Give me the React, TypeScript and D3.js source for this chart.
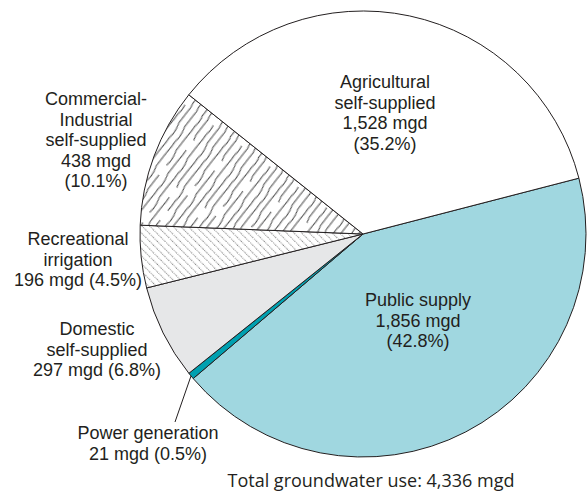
import React from "react";
import * as d3 from "d3";

const categories = [
  "Public supply",
  "Power generation",
  "Domestic self-supplied",
  "Recreational irrigation",
  "Commercial-Industrial self-supplied",
  "Agricultural self-supplied",
];
const values = [1856, 21, 297, 196, 438, 1528];
const percents = ["42.8%", "0.5%", "6.8%", "4.5%", "10.1%", "35.2%"];
const labelLines = [
  ["Public supply", "1,856 mgd", "(42.8%)"],
  ["Power generation", "21 mgd (0.5%)"],
  ["Domestic", "self-supplied", "297 mgd (6.8%)"],
  ["Recreational", "irrigation", "196 mgd (4.5%)"],
  ["Commercial-", "Industrial", "self-supplied", "438 mgd", "(10.1%)"],
  ["Agricultural", "self-supplied", "1,528 mgd", "(35.2%)"],
];
const totalLabel = "Total groundwater use: 4,336 mgd";

// layout (not data)
const W = 587;
const H = 493;
const CX = 363;
const CY = 234;
const R = 223;
const START = (75.5 * Math.PI) / 180;
const fills = ["#a0d7e0", "#00a0b0", "#e6e7e8", "url(#dots)", "url(#waves)", "#ffffff"];
const labelPos: [number, number][] = [
  [418, 300],
  [148, 433],
  [97, 329],
  [78, 239],
  [96, 99],
  [385, 82],
];
const LH = 20.6;
const ink = "#231f20";

export default function App() {
  const pie = d3
    .pie<number>()
    .sort(null)
    .value((d) => d)
    .startAngle(START)
    .endAngle(START + 2 * Math.PI);
  const arcs = pie(values);
  const arc = d3.arc<d3.PieArcDatum<number>>().innerRadius(0).outerRadius(R);

  const pw = arcs[1];
  const mid = (pw.startAngle + pw.endAngle) / 2;
  const lx1 = R * Math.sin(mid);
  const ly1 = -R * Math.cos(mid);

  // wavy hatch lines for commercial pattern (decorative texture)
  const TW = 120;
  const ROW = 7;
  const NR = 5;
  const wavePaths = d3.range(NR).map((i) => {
    const y = ROW / 2 + i * ROW;
    const brk = (i * 37 + 15) % TW;
    let d = `M0,${y}`;
    for (let x = 0; x < TW; x += 12) {
      const nx = x + 12;
      const wob = ((i * 2 + x / 12) % 4) - 1.5;
      if (brk >= x && brk < nx) {
        d += ` M${nx},${y + wob * 0.4}`;
      } else {
        d += ` Q${x + 6},${y + wob * 1.1} ${nx},${y + wob * 0.4}`;
      }
    }
    return d;
  });

  return (
    <svg
      width={W}
      height={H}
      style={{ position: "absolute", left: 0, top: 0, background: "#fff" }}
      fontFamily="'Liberation Sans', Arial, sans-serif"
    >
      <defs>
        <pattern
          id="dots"
          patternUnits="userSpaceOnUse"
          width={5.4}
          height={5.4}
          patternTransform="rotate(-45)"
        >
          <rect width={5.4} height={5.4} fill="#fff" />
          <line x1={0.6} y1={0} x2={0.6} y2={5.4} stroke="#555" strokeWidth={0.8} strokeDasharray="0.9 1.1" />
        </pattern>
        <pattern
          id="waves"
          patternUnits="userSpaceOnUse"
          width={TW}
          height={ROW * NR}
          patternTransform="rotate(-54)"
        >
          <rect width={TW} height={ROW * NR} fill="#fff" />
          {wavePaths.map((d, i) => (
            <path key={i} d={d} fill="none" stroke="#333" strokeWidth={0.9} />
          ))}
        </pattern>
      </defs>
      <g transform={`translate(${CX},${CY})`}>
        {arcs.map((a, i) => (
          <path
            key={categories[i]}
            d={arc(a) || ""}
            fill={fills[i]}
            stroke={ink}
            strokeWidth={1}
            strokeLinejoin="round"
          >
            <title>{`${categories[i]}: ${values[i]} mgd (${percents[i]})`}</title>
          </path>
        ))}
        <line
          x1={lx1}
          y1={ly1}
          x2={175 - CX}
          y2={422 - CY}
          stroke={ink}
          strokeWidth={1}
        />
      </g>
      {labelLines.map((lines, i) => (
        <text
          key={i}
          x={labelPos[i][0]}
          y={labelPos[i][1]}
          fontSize={18}
          fill={ink}
          textAnchor="middle"
          dominantBaseline="central"
        >
          {lines.map((l, j) => (
            <tspan key={j} x={labelPos[i][0]} dy={j === 0 ? 0 : LH}>
              {l}
            </tspan>
          ))}
        </text>
      ))}
      <text
        x={371}
        y={480}
        fontSize={18}
        fill={ink}
        textAnchor="middle"
        dominantBaseline="central"
        fontFamily="'Open Sans', sans-serif"
      >
        {totalLabel}
      </text>
    </svg>
  );
}
